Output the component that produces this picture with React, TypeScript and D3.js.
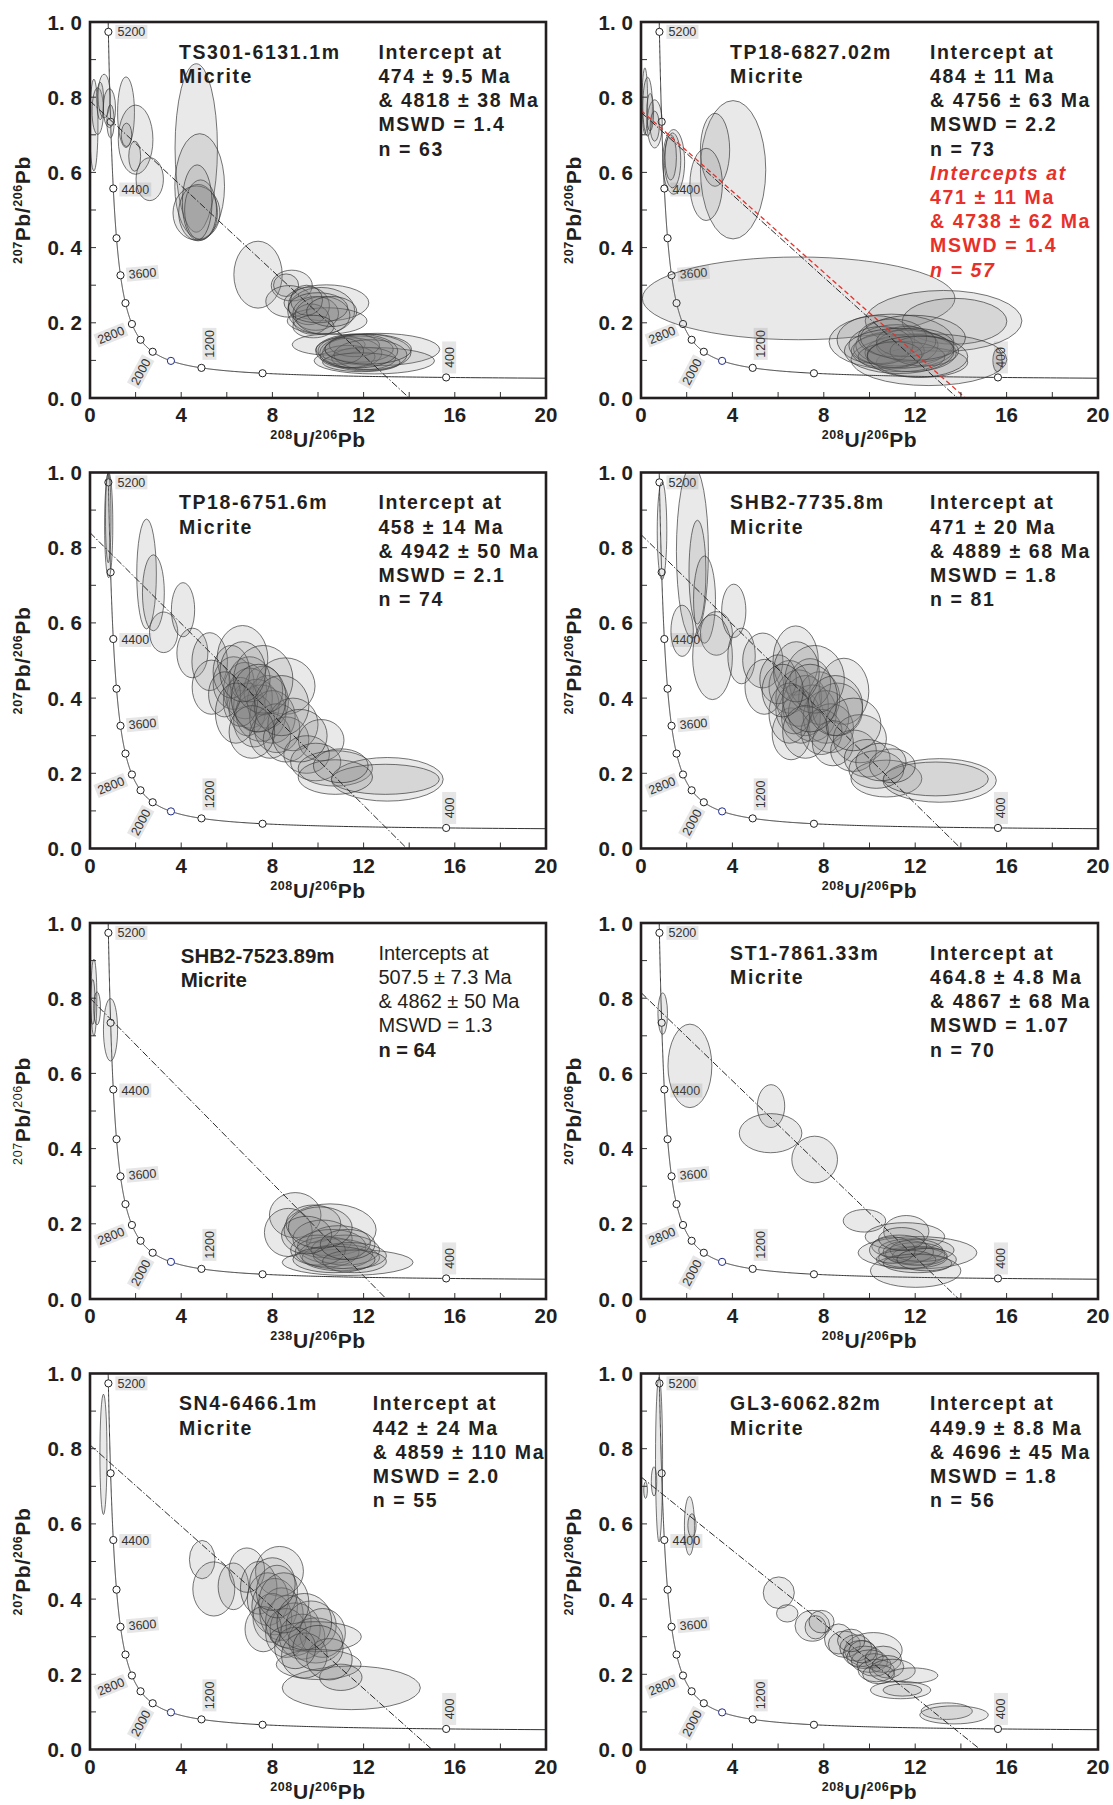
import React from "react";
import * as d3 from "d3";

// ---------------- DATA ----------------
const X_TICKS = [0, 2, 4, 6, 8, 10, 12, 14, 16, 18, 20];
const X_TICK_LABELS = [0, 4, 8, 12, 16, 20];
const Y_TICKS = [0, 0.1, 0.2, 0.3, 0.4, 0.5, 0.6, 0.7, 0.8, 0.9, 1.0];
const Y_TICK_LABELS = [0, 0.2, 0.4, 0.6, 0.8, 1.0];

// Tera-Wasserburg concordia (ages in Ma)
const CONCORDIA_MARKER_AGES = [400, 800, 1200, 1600, 2000, 2400, 2800, 3200, 3600, 4000, 4400, 4800, 5200];
const CONCORDIA_LABEL_AGES = [400, 1200, 2000, 2800, 3600, 4400, 5200];
const DECAY_238 = 1.55125e-4; // per Ma
const DECAY_235 = 9.8485e-4; // per Ma
const U238_U235 = 137.88;

const SAMPLE_NAMES = [
  "TS301-6131.1m",
  "TP18-6827.02m",
  "TP18-6751.6m",
  "SHB2-7735.8m",
  "SHB2-7523.89m",
  "ST1-7861.33m",
  "SN4-6466.1m",
  "GL3-6062.82m",
];
const LITHOLOGY = "Micrite";
const X_PARENT_ISOTOPE = ["208", "208", "208", "208", "238", "208", "208", "208"];

const INTERCEPT_TEXTS = [
  ["Intercept at", "474 ± 9.5 Ma", "& 4818 ± 38 Ma", "MSWD = 1.4", "n = 63"],
  ["Intercept at", "484 ± 11 Ma", "& 4756 ± 63 Ma", "MSWD = 2.2", "n = 73"],
  ["Intercept at", "458 ± 14 Ma", "& 4942 ± 50 Ma", "MSWD = 2.1", "n = 74"],
  ["Intercept at", "471 ± 20 Ma", "& 4889 ± 68 Ma", "MSWD = 1.8", "n = 81"],
  ["Intercepts at", "507.5 ± 7.3 Ma", "& 4862 ± 50 Ma", "MSWD = 1.3", "n = 64"],
  ["Intercept at", "464.8 ± 4.8 Ma", "& 4867 ± 68 Ma", "MSWD = 1.07", "n = 70"],
  ["Intercept at", "442 ± 24 Ma", "& 4859 ± 110 Ma", "MSWD = 2.0", "n = 55"],
  ["Intercept at", "449.9 ± 8.8 Ma", "& 4696 ± 45 Ma", "MSWD = 1.8", "n = 56"],
];
const RED_INTERCEPT_TEXT = ["Intercepts at", "471 ± 11 Ma", "& 4738 ± 62 Ma", "MSWD = 1.4", "n  = 57"];

// discordia: [207Pb/206Pb at x = 0, 238U/206Pb at y = 0]
const DISCORDIA = [
  [0.79, 14.0],
  [0.76, 13.85],
  [0.84, 13.9],
  [0.835, 14.0],
  [0.8, 13.0],
  [0.815, 13.9],
  [0.81, 15.0],
  [0.725, 14.85],
];
const RED_DISCORDIA = [0.765, 14.2];

// ellipses: [cx, cy, rx, ry] in data units
const ELLIPSES_TS301 = [
  [0.17, 0.726, 0.18, 0.122], [0.34, 0.763, 0.25, 0.062], [0.62, 0.803, 0.27, 0.058],
  [0.85, 0.771, 0.27, 0.052], [0.9, 0.736, 0.16, 0.044], [0.45, 0.79, 0.15, 0.05],
  [1.58, 0.76, 0.37, 0.094], [2.0, 0.687, 0.76, 0.092], [1.6, 0.7, 0.23, 0.031],
  [1.96, 0.643, 0.26, 0.04], [2.62, 0.582, 0.6, 0.057],
  [4.66, 0.665, 0.93, 0.224], [4.81, 0.563, 1.09, 0.14], [4.67, 0.492, 1.03, 0.072],
  [4.74, 0.493, 0.85, 0.075], [4.85, 0.5, 0.7, 0.08], [4.7, 0.52, 0.65, 0.1],
  [7.37, 0.328, 1.06, 0.089], [8.85, 0.299, 0.9, 0.041], [8.6, 0.3, 0.55, 0.03],
  [8.73, 0.257, 1.02, 0.042], [10.37, 0.253, 1.86, 0.048], [10.14, 0.232, 1.47, 0.062],
  [10.4, 0.205, 1.75, 0.035], [9.6, 0.245, 0.9, 0.05], [9.9, 0.225, 1.0, 0.045],
  [9.7, 0.21, 0.8, 0.04], [10.2, 0.22, 1.2, 0.05], [9.5, 0.26, 0.7, 0.04],
  [10.0, 0.24, 1.3, 0.04], [10.6, 0.23, 1.1, 0.04], [9.8, 0.19, 0.9, 0.03],
  [10.47, 0.142, 1.6, 0.028], [12.62, 0.129, 2.72, 0.043], [12.47, 0.099, 2.64, 0.035],
  [12.08, 0.121, 2.0, 0.049], [11.5, 0.12, 1.3, 0.04], [11.8, 0.13, 1.5, 0.035],
  [11.3, 0.11, 1.2, 0.03], [12.0, 0.105, 1.4, 0.03], [11.6, 0.14, 1.1, 0.03],
  [12.3, 0.115, 1.6, 0.04], [11.0, 0.125, 1.0, 0.035], [11.9, 0.095, 1.7, 0.025],
  [11.7, 0.125, 1.8, 0.045], [12.2, 0.13, 1.9, 0.04],
];
const ELLIPSES_TP18_6827 = [
  [0.17, 0.79, 0.12, 0.088], [0.29, 0.775, 0.21, 0.078], [0.6, 0.729, 0.33, 0.064],
  [0.6, 0.723, 0.2, 0.04], [0.4, 0.76, 0.15, 0.05], [1.43, 0.628, 0.48, 0.086],
  [1.38, 0.632, 0.36, 0.073], [1.3, 0.64, 0.25, 0.06],
  [4.03, 0.607, 1.43, 0.184], [3.24, 0.66, 0.64, 0.097], [2.85, 0.568, 0.71, 0.096],
  [6.9, 0.265, 6.84, 0.11],
  [13.24, 0.205, 3.43, 0.081], [13.72, 0.204, 2.29, 0.061], [10.96, 0.15, 2.73, 0.073],
  [12.6, 0.102, 3.41, 0.069], [12.3, 0.095, 2.0, 0.04], [10.28, 0.155, 1.7, 0.064],
  [11.5, 0.13, 2.2, 0.05], [11.2, 0.14, 1.8, 0.055], [11.8, 0.12, 2.0, 0.05],
  [10.8, 0.125, 1.6, 0.045], [11.0, 0.16, 1.5, 0.05], [12.0, 0.14, 1.7, 0.045],
  [11.4, 0.11, 1.9, 0.04], [10.5, 0.14, 1.4, 0.05], [11.6, 0.15, 1.3, 0.04],
  [12.4, 0.125, 1.5, 0.04], [11.1, 0.115, 1.2, 0.035], [15.6, 0.1, 0.2, 0.03],
  [11.9, 0.16, 2.3, 0.06], [11.3, 0.125, 2.4, 0.06], [12.1, 0.11, 2.2, 0.055],
];
const ELLIPSES_TP18_6751 = [
  [0.82, 0.86, 0.18, 0.14], [0.8, 0.88, 0.12, 0.12],
  [2.48, 0.73, 0.43, 0.146], [2.78, 0.68, 0.48, 0.101], [3.23, 0.575, 0.62, 0.054],
  [4.08, 0.635, 0.51, 0.072], [4.49, 0.52, 0.68, 0.066], [5.25, 0.497, 0.78, 0.077],
  [6.69, 0.506, 1.11, 0.087], [5.33, 0.429, 0.85, 0.072], [8.57, 0.432, 1.3, 0.075],
  [6.3, 0.44, 0.9, 0.07], [6.8, 0.42, 0.95, 0.075], [7.0, 0.4, 1.0, 0.08],
  [7.3, 0.38, 1.0, 0.07], [6.9, 0.37, 0.8, 0.07], [7.5, 0.36, 1.1, 0.075],
  [7.8, 0.39, 0.9, 0.07], [7.2, 0.34, 0.9, 0.07], [8.0, 0.35, 1.0, 0.07],
  [7.6, 0.42, 0.85, 0.065], [6.6, 0.39, 0.75, 0.065], [8.2, 0.32, 1.0, 0.065],
  [7.9, 0.3, 0.9, 0.06], [8.6, 0.29, 1.0, 0.06], [8.9, 0.33, 1.1, 0.07],
  [7.0, 0.45, 0.9, 0.06], [10.14, 0.288, 1.0, 0.055], [9.5, 0.25, 1.0, 0.05],
  [9.9, 0.23, 1.1, 0.05], [10.76, 0.213, 1.63, 0.047], [13.04, 0.184, 2.45, 0.058],
  [12.95, 0.184, 2.37, 0.04], [10.76, 0.19, 1.63, 0.046], [11.0, 0.22, 1.2, 0.045],
  [6.2, 0.47, 0.8, 0.07], [5.9, 0.41, 0.7, 0.06],
  [7.6, 0.45, 1.3, 0.09], [6.4, 0.36, 0.9, 0.08], [8.4, 0.38, 1.2, 0.08],
  [7.1, 0.31, 1.0, 0.07], [9.2, 0.3, 1.2, 0.07], [6.7, 0.47, 1.0, 0.08],
  [7.4, 0.4, 1.2, 0.09],
];
const ELLIPSES_SHB2_7735 = [
  [0.92, 0.845, 0.21, 0.13], [2.25, 0.79, 0.7, 0.23], [2.47, 0.735, 0.37, 0.138],
  [2.78, 0.662, 0.48, 0.116], [1.8, 0.579, 0.49, 0.068], [3.3, 0.572, 0.7, 0.058],
  [3.13, 0.509, 0.87, 0.113], [4.06, 0.632, 0.53, 0.071], [4.4, 0.512, 0.6, 0.074],
  [5.33, 0.5, 0.88, 0.073], [6.77, 0.5, 0.99, 0.092], [5.4, 0.43, 0.85, 0.073],
  [8.88, 0.418, 1.09, 0.088], [6.57, 0.305, 0.83, 0.069],
  [6.5, 0.43, 0.9, 0.07], [6.9, 0.4, 1.0, 0.075], [7.2, 0.38, 1.0, 0.08],
  [7.5, 0.36, 1.05, 0.075], [7.0, 0.35, 0.85, 0.07], [7.8, 0.4, 0.9, 0.07],
  [8.1, 0.35, 1.0, 0.07], [7.4, 0.44, 0.9, 0.065], [6.7, 0.37, 0.8, 0.065],
  [8.3, 0.32, 1.0, 0.065], [7.9, 0.31, 0.9, 0.06], [8.6, 0.37, 1.1, 0.07],
  [8.4, 0.28, 0.9, 0.06], [9.58, 0.292, 1.16, 0.064], [9.3, 0.26, 1.0, 0.055],
  [9.9, 0.24, 1.0, 0.05], [10.74, 0.186, 1.55, 0.049], [13.07, 0.181, 2.48, 0.058],
  [12.9, 0.185, 2.3, 0.045], [10.3, 0.21, 1.2, 0.05], [11.0, 0.22, 1.0, 0.045],
  [10.5, 0.23, 1.1, 0.05], [6.0, 0.45, 0.8, 0.065],
  [7.6, 0.45, 1.3, 0.09], [6.5, 0.36, 0.9, 0.08], [8.5, 0.38, 1.2, 0.08],
  [7.2, 0.31, 1.0, 0.07], [9.3, 0.33, 1.2, 0.07], [6.8, 0.47, 1.0, 0.08],
  [7.4, 0.4, 1.2, 0.09], [6.2, 0.42, 0.9, 0.07],
];
const ELLIPSES_SHB2_7523 = [
  [0.17, 0.802, 0.13, 0.102], [0.31, 0.773, 0.15, 0.044], [0.9, 0.716, 0.31, 0.083],
  [0.12, 0.79, 0.1, 0.06],
  [9.0, 0.223, 1.13, 0.06], [8.7, 0.177, 1.05, 0.064], [10.53, 0.184, 2.02, 0.069],
  [11.3, 0.0975, 2.87, 0.035], [9.8, 0.2, 1.2, 0.05], [10.2, 0.16, 1.3, 0.05],
  [10.6, 0.14, 1.5, 0.045], [10.8, 0.12, 1.6, 0.04], [11.0, 0.11, 1.7, 0.035],
  [10.4, 0.125, 1.4, 0.04], [11.2, 0.13, 1.5, 0.04], [10.9, 0.15, 1.4, 0.045],
  [11.4, 0.115, 1.6, 0.035], [10.0, 0.13, 1.2, 0.04], [11.6, 0.1, 1.4, 0.03],
  [10.7, 0.105, 1.8, 0.035], [9.5, 0.17, 1.1, 0.05], [11.3, 0.145, 1.2, 0.04],
  [10.1, 0.19, 1.4, 0.055],
];
const ELLIPSES_ST1 = [
  [0.95, 0.759, 0.21, 0.055], [2.14, 0.62, 0.96, 0.111], [5.69, 0.513, 0.6, 0.057],
  [5.67, 0.441, 1.37, 0.052], [7.6, 0.371, 1.0, 0.062], [9.78, 0.208, 0.93, 0.03],
  [11.61, 0.18, 0.99, 0.042], [11.55, 0.166, 1.74, 0.037], [12.1, 0.123, 2.6, 0.043],
  [12.02, 0.075, 1.98, 0.044], [11.8, 0.13, 1.4, 0.03], [12.0, 0.12, 1.3, 0.03],
  [11.9, 0.11, 1.5, 0.028], [12.2, 0.115, 1.2, 0.025], [11.7, 0.125, 1.1, 0.03],
  [12.3, 0.13, 1.4, 0.03], [11.6, 0.105, 1.3, 0.025], [12.1, 0.095, 1.5, 0.025],
  [11.3, 0.14, 1.2, 0.03], [11.0, 0.13, 1.0, 0.035], [12.5, 0.105, 1.3, 0.03],
  [11.4, 0.16, 1.0, 0.03],
];
const ELLIPSES_SN4 = [
  [0.59, 0.785, 0.155, 0.16], [4.92, 0.505, 0.56, 0.051], [5.43, 0.427, 0.92, 0.072],
  [6.29, 0.434, 0.67, 0.062], [6.88, 0.477, 0.78, 0.059], [8.31, 0.474, 1.05, 0.066],
  [7.4, 0.43, 0.8, 0.07], [7.8, 0.4, 0.9, 0.07], [8.1, 0.38, 1.0, 0.075],
  [8.4, 0.36, 0.95, 0.07], [8.0, 0.35, 0.85, 0.065], [8.7, 0.34, 1.0, 0.07],
  [9.0, 0.32, 1.1, 0.07], [8.6, 0.31, 0.9, 0.065], [9.3, 0.3, 1.0, 0.06],
  [9.7, 0.33, 1.1, 0.065], [9.9, 0.29, 1.2, 0.06], [10.2, 0.31, 1.0, 0.065],
  [7.6, 0.32, 0.8, 0.06], [9.9, 0.3, 2.0, 0.04], [10.03, 0.226, 1.86, 0.04],
  [11.46, 0.164, 3.03, 0.058], [11.0, 0.192, 0.93, 0.035], [9.4, 0.25, 1.0, 0.06],
  [10.5, 0.24, 1.0, 0.055], [9.0, 0.27, 0.9, 0.055], [8.2, 0.42, 0.9, 0.07],
  [8.5, 0.39, 1.1, 0.08], [9.4, 0.34, 1.2, 0.075], [8.0, 0.44, 1.0, 0.07],
  [10.0, 0.27, 1.1, 0.06],
];
const ELLIPSES_GL3 = [
  [0.2, 0.69, 0.08, 0.022], [0.57, 0.713, 0.12, 0.039], [0.79, 0.771, 0.155, 0.219],
  [2.12, 0.595, 0.22, 0.078], [2.23, 0.596, 0.18, 0.031], [6.03, 0.417, 0.68, 0.042],
  [6.4, 0.362, 0.47, 0.023], [7.5, 0.329, 0.76, 0.041], [7.64, 0.325, 0.46, 0.031],
  [7.9, 0.34, 0.55, 0.03], [8.65, 0.294, 0.62, 0.04], [8.9, 0.28, 0.7, 0.035],
  [10.17, 0.264, 1.26, 0.047], [9.4, 0.27, 0.7, 0.035], [9.6, 0.255, 0.75, 0.035],
  [9.8, 0.245, 0.8, 0.03], [10.0, 0.235, 0.8, 0.03], [10.2, 0.225, 0.75, 0.03],
  [10.3, 0.21, 0.8, 0.03], [9.7, 0.26, 0.6, 0.03], [10.6, 0.24, 0.8, 0.035],
  [10.8, 0.22, 0.7, 0.03], [10.4, 0.2, 0.7, 0.025], [11.0, 0.21, 1.0, 0.03],
  [11.9, 0.197, 1.09, 0.02], [11.36, 0.158, 1.32, 0.023], [11.44, 0.158, 0.85, 0.016],
  [13.38, 0.102, 1.12, 0.022], [13.7, 0.092, 1.5, 0.024], [9.2, 0.29, 0.6, 0.03],
];
const PANEL_ELLIPSES = [
  ELLIPSES_TS301, ELLIPSES_TP18_6827, ELLIPSES_TP18_6751, ELLIPSES_SHB2_7735,
  ELLIPSES_SHB2_7523, ELLIPSES_ST1, ELLIPSES_SN4, ELLIPSES_GL3,
];

// ---------------- LAYOUT / STYLE ----------------
const W = 1113;
const H = 1805;
const COL_X = [90, 641];
const PLOT_W = [456, 457];
const ROW_Y = [22, 472.5, 923, 1373.5];
const PLOT_H = 376;
const FONT = "'Liberation Sans', Arial, Helvetica, sans-serif";
const INK = "#231f20";
const RED = "#e8302a";

const LABEL_STYLE: Record<number, { dx: number; dy: number; rot: number }> = {
  5200: { dx: 23, dy: 0, rot: 0 },
  4400: { dx: 22, dy: 1, rot: 0 },
  3600: { dx: 22, dy: -2, rot: -5 },
  2800: { dx: -21, dy: 11, rot: -22 },
  2000: { dx: -12, dy: 20, rot: -62 },
  1200: { dx: 8, dy: -24, rot: -90 },
  400: { dx: 3, dy: -20, rot: -90 },
};

function concordiaXY(t: number): [number, number] {
  const e8 = Math.exp(DECAY_238 * t) - 1;
  const e5 = Math.exp(DECAY_235 * t) - 1;
  return [1 / e8, e5 / e8 / U238_U235];
}

function Panel({ idx }: { idx: number }) {
  const col = idx % 2;
  const row = Math.floor(idx / 2);
  const w = PLOT_W[col];
  const h = PLOT_H;
  const ox = COL_X[col];
  const oy = ROW_Y[row];
  const x = d3.scaleLinear().domain([0, 20]).range([0, w]);
  const y = d3.scaleLinear().domain([0, 1]).range([h, 0]);
  const clipId = `clip-${idx}`;

  const curveAges = d3.range(300, 5400, 5);
  const curvePts = curveAges.map(concordiaXY).filter((p) => p[1] <= 1.05);
  const line = d3
    .line<[number, number]>()
    .x((d) => x(d[0]))
    .y((d) => y(d[1]));

  const ell = PANEL_ELLIPSES[idx];
  const [yi, xi] = DISCORDIA[idx];
  const special = idx === 4;
  const textTop = 36.8;
  const step = 24.2;

  const sup = 12.5;
  const main = 21;

  return (
    <g transform={`translate(${ox},${oy})`}>
      <defs>
        <clipPath id={clipId}>
          <rect x={0} y={0} width={w} height={h} />
        </clipPath>
      </defs>
      <g clipPath={`url(#${clipId})`}>
        <path d={line(curvePts) || ""} fill="none" stroke="#333" strokeWidth={1} />
        {CONCORDIA_LABEL_AGES.map((a) => {
          const [cx, cy] = concordiaXY(a);
          const s = LABEL_STYLE[a];
          const px = x(cx) + s.dx;
          const py = y(cy) + s.dy;
          return (
            <g key={"l" + a} transform={`translate(${px},${py}) rotate(${s.rot})`}>
              <rect x={-16} y={-7} width={32} height={14} fill="#e6e6e6" />
              <text
                x={0}
                y={0}
                dy="0.35em"
                textAnchor="middle"
                fontFamily={FONT}
                fontSize={12.5}
                fill="#333"
              >
                {a}
              </text>
            </g>
          );
        })}
        {CONCORDIA_MARKER_AGES.map((a) => {
          const [cx, cy] = concordiaXY(a);
          return (
            <circle
              key={"m" + a}
              cx={x(cx)}
              cy={y(cy)}
              r={3.6}
              fill="#fff"
              stroke={a === 1600 ? "#1f2b8a" : "#222"}
              strokeWidth={1}
            />
          );
        })}
        {ell.map((e, k) => (
          <ellipse
            key={"e" + k}
            cx={x(e[0])}
            cy={y(e[1])}
            rx={x(e[2]) - x(0)}
            ry={y(0) - y(e[3])}
            fill="#7a7a7a"
            fillOpacity={0.17}
            stroke="#333"
            strokeOpacity={0.75}
            strokeWidth={0.9}
          />
        ))}
        <line
          x1={x(0)}
          y1={y(yi)}
          x2={x(xi)}
          y2={y(0)}
          stroke="#2a2a2a"
          strokeWidth={1}
          strokeDasharray="7 2 1.5 2"
        />
        {idx === 1 && (
          <line
            x1={x(0)}
            y1={y(RED_DISCORDIA[0])}
            x2={x(RED_DISCORDIA[1])}
            y2={y(0)}
            stroke={RED}
            strokeWidth={1.3}
            strokeDasharray="5 3"
          />
        )}
      </g>

      {/* ticks */}
      {X_TICKS.map((t) => (
        <line key={"xt" + t} x1={x(t)} x2={x(t)} y1={h} y2={h - 6} stroke="#333" strokeWidth={1} />
      ))}
      {Y_TICKS.map((t) => (
        <line key={"yt" + t} x1={0} x2={6} y1={y(t)} y2={y(t)} stroke="#333" strokeWidth={1} />
      ))}
      <rect x={0} y={0} width={w} height={h} fill="none" stroke={INK} strokeWidth={2.6} />

      {/* tick labels */}
      {X_TICK_LABELS.map((t) => (
        <text
          key={"xl" + t}
          x={x(t)}
          y={h + 24}
          textAnchor="middle"
          fontFamily={FONT}
          fontWeight="bold"
          fontSize={20.5}
          fill={INK}
        >
          {t}
        </text>
      ))}
      {Y_TICK_LABELS.map((t) => {
        const s = t.toFixed(1).split(".");
        return (
          <text
            key={"yl" + t}
            x={-8}
            y={y(t) + 7.5}
            textAnchor="end"
            fontFamily={FONT}
            fontWeight="bold"
            fontSize={20.5}
            fill={INK}
          >
            {s[0]}.<tspan dx={6}>{s[1]}</tspan>
          </text>
        );
      })}

      {/* axis titles */}
      <text
        x={w / 2}
        y={h + 49}
        textAnchor="middle"
        fontFamily={FONT}
        fontWeight="bold"
        fill={INK}
        fontSize={main}
        letterSpacing={0.6}
      >
        <tspan fontSize={sup} dy={-8}>{X_PARENT_ISOTOPE[idx]}</tspan>
        <tspan fontSize={main} dy={8}>U/</tspan>
        <tspan fontSize={sup} dy={-8}>206</tspan>
        <tspan fontSize={main} dy={8}>Pb</tspan>
      </text>
      <text
        transform={`translate(${-60},${h / 2}) rotate(-90)`}
        textAnchor="middle"
        fontFamily={FONT}
        fontWeight="bold"
        fill={INK}
        fontSize={main}
        letterSpacing={0.6}
      >
        <tspan fontSize={sup} dy={-8} fontWeight={special ? "normal" : "bold"}>207</tspan>
        <tspan fontSize={main} dy={8}>Pb/</tspan>
        <tspan fontSize={sup} dy={-8} fontWeight={special ? "normal" : "bold"}>206</tspan>
        <tspan fontSize={main} dy={8}>Pb</tspan>
      </text>

      {/* sample label */}
      <text
        x={x(special ? 3.98 : 3.9)}
        y={special ? textTop + 3 : textTop}
        fontFamily={FONT}
        fontWeight="bold"
        fontSize={special ? 20.5 : 19.5}
        letterSpacing={special ? 0 : 1.6}
        fill={INK}
      >
        <tspan x={x(special ? 3.98 : 3.9)}>{SAMPLE_NAMES[idx]}</tspan>
        <tspan x={x(special ? 3.98 : 3.9)} dy={step}>{LITHOLOGY}</tspan>
      </text>

      {/* intercept text */}
      {INTERCEPT_TEXTS[idx].map((s, k) => (
        <text
          key={"it" + k}
          x={x(idx === 6 ? 12.4 : 12.65)}
          y={textTop + k * step}
          fontFamily={FONT}
          fontWeight={special && k < 4 ? "normal" : "bold"}
          fontSize={special ? 20 : 19.5}
          letterSpacing={special ? 0 : 1.6}
          fill={INK}
        >
          {s}
        </text>
      ))}
      {idx === 1 &&
        RED_INTERCEPT_TEXT.map((s, k) => (
          <text
            key={"rt" + k}
            x={x(12.65)}
            y={textTop + (k + 5) * step}
            fontFamily={FONT}
            fontWeight="bold"
            fontStyle={k === 0 || k === 4 ? "italic" : "normal"}
            fontSize={19.5}
            letterSpacing={1.6}
            fill={RED}
          >
            {s}
          </text>
        ))}
    </g>
  );
}

export default function App() {
  return (
    <div style={{ position: "absolute", left: 0, top: 0 }}>
      <svg width={W} height={H} viewBox={`0 0 ${W} ${H}`} style={{ display: "block", background: "#fff" }}>
        <rect x={0} y={0} width={W} height={H} fill="#fff" />
        {SAMPLE_NAMES.map((_, i) => (
          <Panel key={i} idx={i} />
        ))}
      </svg>
    </div>
  );
}
